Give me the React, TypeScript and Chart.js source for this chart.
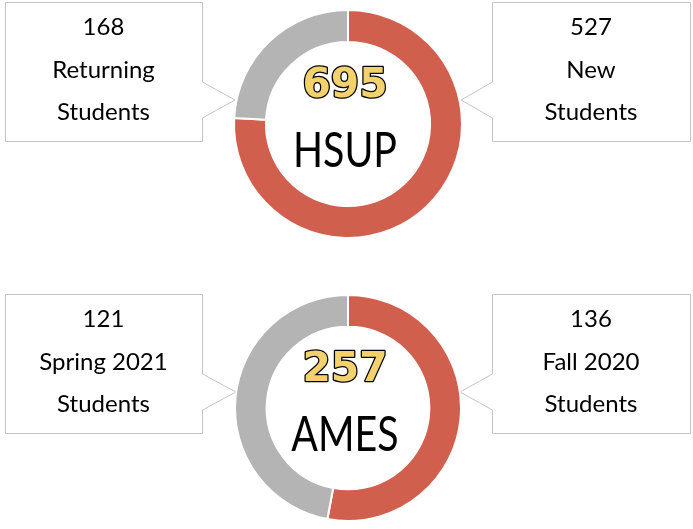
import React, { useEffect, useRef } from "react";
import { Chart, registerables } from "chart.js";

Chart.register(...registerables);

// ---- data ----
const hsupTitle = "HSUP";
const hsupCategories = ["New Students", "Returning Students"];
const hsupValues = [527, 168];
const hsupCalloutLines = [["New", "Students"], ["Returning", "Students"]];

const amesTitle = "AMES";
const amesCategories = ["Fall 2020 Students", "Spring 2021 Students"];
const amesValues = [136, 121];
const amesCalloutLines = [["Fall 2020", "Students"], ["Spring 2021", "Students"]];

const segmentColors = ["#D15F4E", "#B4B4B4"];

const FONT = "Lato, 'Noto Sans', sans-serif";
const NUM_FONT = "'DejaVu Sans', sans-serif";

type CalloutOpts = {
  boxTop: number;
  title: string;
  lines: string[][];
  values: number[];
};

const calloutPlugin = {
  id: "callouts",
  beforeDatasetsDraw(chart: any, _args: any, opts: CalloutOpts) {
    const ctx: CanvasRenderingContext2D = chart.ctx;
    const meta = chart.getDatasetMeta(0);
    const arc = meta.data[0];
    const cx = arc.x;
    const outer = arc.outerRadius;
    const top = opts.boxTop;
    const h = 139;
    const boxes = [
      { x0: 492, x1: 690, side: "right", idx: 0 },
      { x0: 5, x1: 202, side: "left", idx: 1 },
    ];
    ctx.save();
    ctx.lineWidth = 1;
    ctx.strokeStyle = "#C4C4C4";
    for (const b of boxes) {
      const y0 = top + 0.5;
      const y1 = top + h + 0.5;
      const x0 = b.x0 + 0.5;
      const x1 = b.x1 + 0.5;
      const bA = top + 80;
      const bB = top + 116;
      const tipY = top + 98;
      ctx.beginPath();
      if (b.side === "left") {
        const tipX = cx - outer + 1;
        ctx.moveTo(x0, y0);
        ctx.lineTo(x1, y0);
        ctx.lineTo(x1, bA);
        ctx.lineTo(tipX, tipY);
        ctx.lineTo(x1, bB);
        ctx.lineTo(x1, y1);
        ctx.lineTo(x0, y1);
        ctx.closePath();
      } else {
        const tipX = cx + outer - 1;
        ctx.moveTo(x0, y0);
        ctx.lineTo(x1, y0);
        ctx.lineTo(x1, y1);
        ctx.lineTo(x0, y1);
        ctx.lineTo(x0, bB);
        ctx.lineTo(tipX, tipY);
        ctx.lineTo(x0, bA);
        ctx.closePath();
      }
      ctx.fillStyle = "#FFFFFF";
      ctx.fill();
      ctx.stroke();

      const tx = (b.x0 + b.x1) / 2;
      const mid = top + h / 2;
      ctx.fillStyle = "#000000";
      ctx.textAlign = "center";
      ctx.textBaseline = "middle";
      ctx.font = `24px ${FONT}`;
      ctx.fillText(String(opts.values[b.idx]), tx, mid - 44);
      const ls = opts.lines[b.idx];
      ctx.fillText(ls[0], tx, mid - 1);
      ctx.fillText(ls[1], tx, mid + 41);
    }
    ctx.restore();
  },
  afterDatasetsDraw(chart: any, _args: any, opts: CalloutOpts) {
    const ctx: CanvasRenderingContext2D = chart.ctx;
    const arc = chart.getDatasetMeta(0).data[0];
    const cx = arc.x - 3;
    const cy = arc.y;
    const total = opts.values.reduce((a, v) => a + v, 0);
    ctx.save();
    ctx.textAlign = "center";
    ctx.textBaseline = "middle";
    // total number
    ctx.save();
    ctx.translate(cx, cy - 37);
    ctx.scale(1.02, 1);
    ctx.font = `bold 40px ${NUM_FONT}`;
    ctx.lineJoin = "round";
    ctx.lineWidth = 2.5;
    ctx.strokeStyle = "#000000";
    ctx.strokeText(String(total), 0, 0);
    ctx.fillStyle = "#F3D26E";
    ctx.fillText(String(total), 0, 0);
    ctx.restore();
    // title
    ctx.save();
    ctx.translate(cx, cy + 28);
    ctx.scale(0.82, 1);
    ctx.fillStyle = "#000000";
    ctx.font = `48px ${FONT}`;
    ctx.fillText(opts.title, 0, 0);
    ctx.restore();
    ctx.restore();
  },
};

function Donut(props: {
  width: number;
  height: number;
  padding: { left: number; right: number; top: number; bottom: number };
  categories: string[];
  values: number[];
  lines: string[][];
  title: string;
  boxTop: number;
}) {
  const ref = useRef<HTMLCanvasElement | null>(null);
  useEffect(() => {
    if (!ref.current) return;
    const chart = new Chart(ref.current, {
      type: "doughnut",
      data: {
        labels: props.categories,
        datasets: [
          {
            data: props.values,
            backgroundColor: segmentColors,
            borderColor: "#FFFFFF",
            borderWidth: 2,
          },
        ],
      },
      options: {
        responsive: false,
        animation: false,
        devicePixelRatio: 1,
        cutout: "72%",
        layout: { padding: props.padding },
        plugins: {
          legend: { display: false },
          tooltip: { enabled: false },
          callouts: {
            boxTop: props.boxTop,
            title: props.title,
            lines: props.lines,
            values: props.values,
          },
        } as any,
      },
      plugins: [calloutPlugin],
    });
    return () => chart.destroy();
  }, []);
  return (
    <canvas
      ref={ref}
      width={props.width}
      height={props.height}
      style={{ display: "block", width: props.width, height: props.height }}
    />
  );
}

export default function App() {
  return (
    <div style={{ position: "absolute", left: 0, top: 0, width: 693, height: 529, background: "#fff" }}>
      <Donut
        width={693}
        height={264}
        padding={{ left: 233, right: 230, top: 9, bottom: 25 }}
        categories={hsupCategories}
        values={hsupValues}
        lines={hsupCalloutLines}
        title={hsupTitle}
        boxTop={2}
      />
      <Donut
        width={693}
        height={265}
        padding={{ left: 234, right: 231, top: 30, bottom: 7 }}
        categories={amesCategories}
        values={amesValues}
        lines={amesCalloutLines}
        title={amesTitle}
        boxTop={30}
      />
    </div>
  );
}
